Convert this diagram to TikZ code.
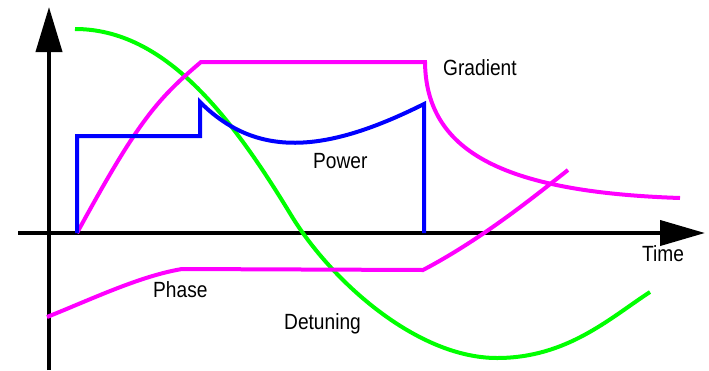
\documentclass[tikz,border=0pt]{standalone}
\usepackage{fontspec}
\setmainfont{Liberation Sans}
\usetikzlibrary{arrows.meta}
\definecolor{cgreen}{RGB}{0,255,0}
\definecolor{cmag}{RGB}{255,0,255}
\definecolor{cblue}{RGB}{0,0,255}
\begin{document}
\begin{tikzpicture}[x=1pt,y=-1pt,
  axis/.style={line width=4pt,black},
  curve/.style={line width=4pt,line join=miter},
  lbl/.style={inner sep=0pt,anchor=base west,font=\fontsize{22}{24}\selectfont}]
\useasboundingbox (0,0) rectangle (709,370);
% axes
\coordinate (yb) at (49,370);
\coordinate (yt) at (49,7);
\coordinate (xl) at (18,233);
\coordinate (xr) at (705,233);
\draw[axis,-{Triangle[length=45pt,width=26pt]}] (yb) -- (yt);
\draw[axis,-{Triangle[length=45pt,width=25pt]}] (xl) -- (xr);
% detuning (green)
\draw[curve,cgreen] (75,29) .. controls (165,29) and (231,116) .. (291,215)
  .. controls (331,281) and (417,358) .. (497,358)
  .. controls (567,358) and (610,318) .. (650,292);
% gradient (magenta)
\draw[curve,cmag] (77,233) .. controls (137,123) and (156,100) .. (201,62) -- (425,62)
  .. controls (426,150) and (500,192) .. (680,198);
% phase (magenta)
\draw[curve,cmag] (47,317) .. controls (92,299) and (140,276) .. (182,269) -- (423,270)
  .. controls (480,240) and (530,200) .. (568,170);
% power (blue)
\draw[curve,cblue] (77,233) -- (77,136) -- (200,136) -- (200,102)
  .. controls (256,158) and (324,154) .. (424,104) -- (424,233);
% labels
\node[lbl] (g) at (443,75) {\scalebox{0.87}[1]{Gradient}};
\node[lbl] (p) at (313,168) {\scalebox{0.87}[1]{Power}};
\node[lbl] (ph) at (153,297) {\scalebox{0.87}[1]{Phase}};
\node[lbl] (d) at (284,329) {\scalebox{0.87}[1]{Detuning}};
\node[lbl] (t) at (642,261) {\scalebox{0.87}[1]{Time}};
\end{tikzpicture}
\end{document}
